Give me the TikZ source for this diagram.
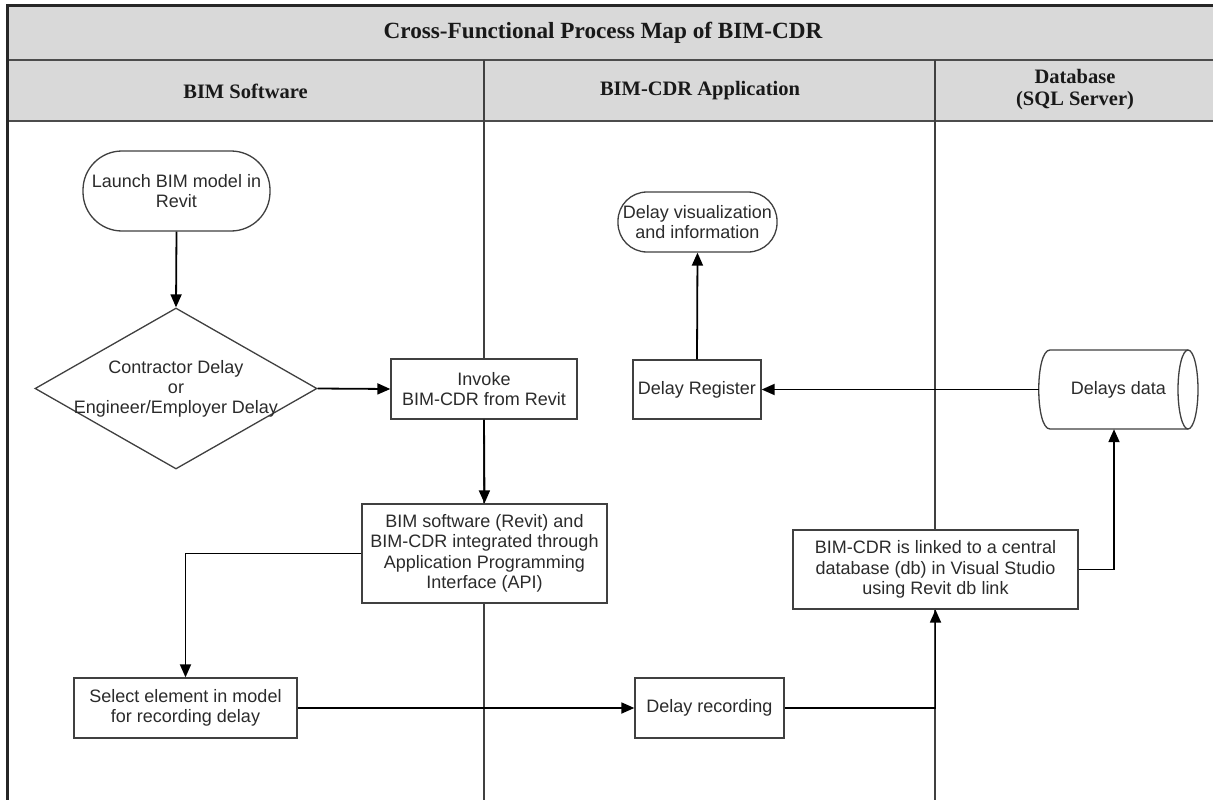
\documentclass[tikz,border=0pt]{standalone}
\usepackage{fontspec}
\setmainfont{Liberation Sans}
\newfontfamily\serifhdr{Liberation Serif}
\usetikzlibrary{shapes.geometric,arrows.meta,calc}
\definecolor{band}{HTML}{D9D9D9}
\definecolor{edge}{HTML}{404040}
\definecolor{txt}{HTML}{2B2B2B}
\tikzset{
  box/.style={draw=edge, fill=white, line width=1.3pt, rectangle, inner sep=0pt, align=center,
    text=txt, font=\fontsize{18}{20.5}\selectfont},
  termA/.style={box, rounded corners=39pt},
  termB/.style={box, rounded corners=29pt},
  hdr/.style={align=center, text=black!90, inner sep=0pt,
    font=\serifhdr\bfseries\fontsize{20.5}{22}\selectfont},
  ttl/.style={hdr, font=\serifhdr\bfseries\fontsize{23.2}{26}\selectfont},
  conn/.style={line width=1.8pt, draw=black, -{Triangle[length=13pt,width=11pt]}},
  lane/.style={line width=1.5pt, draw=black!75},
  bandline/.style={line width=2pt, draw=black!70},
}
\begin{document}
\begin{tikzpicture}[x=1pt,y=-1pt]
\useasboundingbox (0,0) rectangle (1213,800);
\clip (0,0) rectangle (1213,800);
\fill[white] (0,0) rectangle (1213,800);
% bands and lanes
\fill[band] (7,6) rectangle (1213,121);
\draw[bandline] (7,60) -- (1213,60);
\draw[bandline] (7,121) -- (1213,121);
\draw[lane] (484,60) -- (484,800);
\draw[lane] (935,60) -- (935,800);
\draw[line width=3pt, draw=black!85] (7,810) -- (7,6) -- (1220,6);
% headers
\node[ttl] (title) at (603,33) {Cross-Functional Process Map of BIM-CDR};
\node[hdr] (h1) at (245.5,91) {BIM Software};
\node[hdr] (h2) at (700,91) {BIM-CDR Application};
\node[hdr] (h3) at (1075,90) {Database\\(SQL Server)};
% nodes
\node[termA, minimum width=187pt, minimum height=80pt] (launch) at (176.5,191) {Launch BIM model in\\Revit};
\node[draw=edge, fill=white, line width=1.3pt, shape=diamond, inner sep=0pt, minimum width=282pt, minimum height=161pt] (dia) at (176,388.5) {};
\node[align=center, text=txt, inner sep=0pt, font=\fontsize{18}{20}\selectfont] (diatext) at (dia.center) {Contractor Delay\\or\\Engineer/Employer Delay};
\node[box, minimum width=186pt, minimum height=60pt] (inv) at (484,389) {Invoke\\BIM-CDR from Revit};
\node[box, minimum width=245pt, minimum height=99pt] (api) at (484.5,553.5) {BIM software (Revit) and\\BIM-CDR integrated through\\Application Programming\\Interface (API)};
\node[box, minimum width=223pt, minimum height=60pt] (sel) at (185.5,708) {Select element in model\\for recording delay};
\node[box, minimum width=149pt, minimum height=60pt] (rec) at (709.5,708) {Delay recording};
\node[box, minimum width=285pt, minimum height=79pt] (link) at (935.5,569.5) {BIM-CDR is linked to a central\\database (db) in Visual Studio\\using Revit db link};
\node[box, minimum width=128pt, minimum height=59pt] (reg) at (697,389.5) {Delay Register};
\node[termB, minimum width=159pt, minimum height=60pt] (vis) at (697.5,222) {Delay visualization\\and information};
% cylinder
\fill[white] (1188,350) -- (1050,350) .. controls (1035,350) and (1035,429) .. (1050,429) -- (1188,429) -- cycle;
\node[inner sep=0pt, minimum width=159pt, minimum height=79pt, text=txt, font=\fontsize{18}{20.5}\selectfont] (cyl) at (1118.5,389.5) {Delays data};
\draw[draw=edge, line width=1.3pt] (1188,350) -- (1050,350) .. controls (1035,350) and (1035,429) .. (1050,429) -- (1188,429);
\draw[draw=edge, fill=white, line width=1.3pt] (1188,389.5) ellipse [x radius=10, y radius=39.5];
% connectors
\draw[conn] (launch.south) -- (dia.north);
\draw[conn] (dia.east) -- (inv.west);
\draw[conn] (inv.south) -- (api.north);
\draw[conn] (api.west) -| (sel.north);
\draw[conn] (sel.east) -- (rec.west);
\draw[conn] (rec.east) -| (link.south);
\draw[conn] (link.east) -| ([xshift=-4.5pt]cyl.south);
\draw[conn] (cyl.west) -- (reg.east);
\draw[conn] (reg.north) -- (vis.south);
\end{tikzpicture}
\end{document}
